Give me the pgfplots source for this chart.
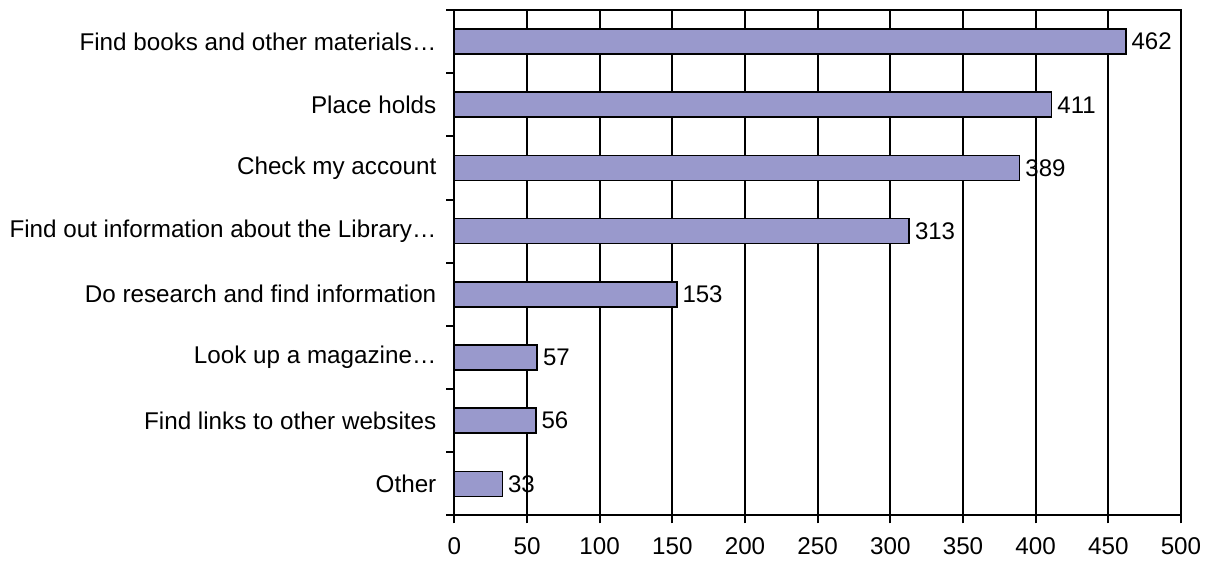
\documentclass[border=0pt]{standalone}
\usepackage{fontspec}
\setmainfont{Liberation Sans}
\usepackage{pgfplots}
\pgfplotsset{compat=1.18}
\definecolor{barfill}{RGB}{153,153,204}
\begin{document}
\begin{tikzpicture}
\begin{axis}[
  at={(0,0)}, anchor=south west,
  scale only axis,
  width=363pt, height=252.5pt,
  xmin=0, xmax=500,
  ymin=0.5, ymax=8.5,
  xtick={0,50,...,500},
  ytick={1,...,8},
  yticklabels={Other, Find links to other websites, Look up a magazine…, Do research and find information, Find out information about the Library…, Check my account, Place holds, Find books and other materials…},
  minor ytick={0.5,1.5,...,8.5},
  tick pos=left,
  tick align=outside,
  major tick length=4pt,
  minor tick length=4pt,
  major y tick style={draw=none},
  x tick style={black, line width=1pt},
  minor y tick style={black, line width=1pt},
  xmajorgrids,
  grid style={black, line width=1pt},
  axis line style={black, line width=1pt},
  /pgf/number format/assume math mode=true,
  ticklabel style={font=\fontsize{12.1}{14}\selectfont},
  yticklabel style={xshift=-1.5pt},
  xticklabel style={yshift=-3.5pt},
  xbar,
  bar width=12.5pt,
  nodes near coords,
  every node near coord/.append style={font=\fontsize{12}{14}\selectfont, black, inner sep=2.5pt},
  clip=false,
]
\addplot[fill=barfill, draw=black, line width=0.8pt] coordinates {
  (462,8) (411,7) (389,6) (313,5) (153,4) (57,3) (56,2) (33,1)
};
\end{axis}
\path[use as bounding box] (-227pt,-23pt) rectangle (382pt,257.5pt);
\end{tikzpicture}
\end{document}
